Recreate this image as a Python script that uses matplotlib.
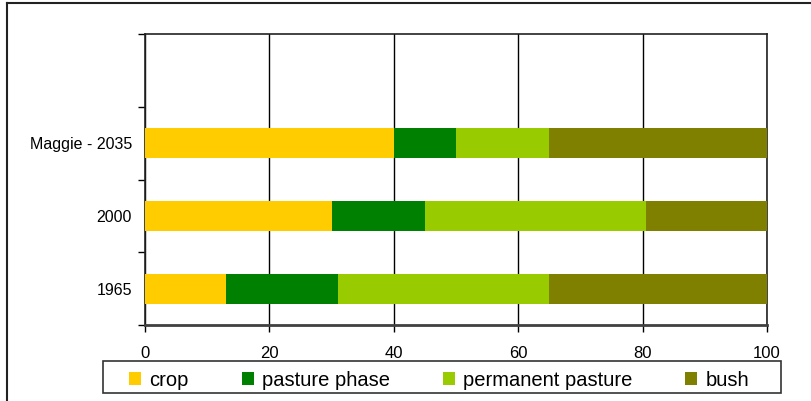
import matplotlib.pyplot as plt
import numpy as np
from matplotlib.lines import Line2D
from matplotlib.patches import Rectangle

# data (percent of area)
periods = ['1965', '2000', 'Maggie - 2035']
land_uses = ['crop', 'pasture phase', 'permanent pasture', 'bush']
crop = [13, 30, 40]
pasture_phase = [18, 15, 10]
permanent_pasture = [34, 35.5, 15]
bush = [35, 19.5, 35]
colors = ['#FFCC00', '#008000', '#99CC00', '#808000']

plt.rcParams['font.family'] = ['Liberation Sans', 'DejaVu Sans']

W, H = 812, 401
fig = plt.figure(figsize=(W / 100, H / 100), dpi=100)

# axes placed in pixel coords of the reference
ax = fig.add_axes([145 / W, 1 - 325 / H, (767 - 145) / W, (325 - 34) / H])

y = np.arange(len(periods))
left = np.zeros(len(periods))
for name, vals, col in zip(land_uses, [crop, pasture_phase, permanent_pasture, bush], colors):
    ax.barh(y, vals, left=left, height=0.41, color=col, label=name, zorder=3)
    left += np.array(vals)

ax.set_xlim(0, 100)
ax.set_ylim(-0.5, 3.5)
ax.set_xticks(range(0, 101, 20))
ax.grid(axis='x', color='black', linewidth=1, zorder=0)
ax.tick_params(axis='x', direction='out', length=5, width=1, labelsize=12, pad=10)

# category boundaries as major ticks, labels as minor ticks
ax.set_yticks(np.arange(-0.5, 3.6, 1))
ax.set_yticklabels([])
ax.set_yticks(y, minor=True)
ax.set_yticklabels(periods, minor=True)
ax.tick_params(axis='y', which='major', direction='out', length=5, width=1)
ax.tick_params(axis='y', which='minor', length=0, labelsize=11.5, pad=9.5)

for side in ['top', 'right', 'left', 'bottom']:
    ax.spines[side].set_color('#222222')
    ax.spines[side].set_linewidth(1.2)
ax.spines['bottom'].set_color('#404040')
ax.spines['bottom'].set_linewidth(2)

# legend without its own frame, box drawn separately
handles, labels = ax.get_legend_handles_labels()
leg = fig.legend(handles, labels, ncol=4, mode='expand',
                 bbox_to_anchor=(126 / W, 1 - 393 / H, (752 - 126) / W, 32 / H),
                 loc='lower left', fontsize=14.5, frameon=False,
                 handlelength=0.6, handleheight=0.6, handletextpad=0.4,
                 borderpad=0.15, borderaxespad=0)
fig.add_artist(Rectangle((103 / W, 1 - 393 / H), (781 - 103) / W, 32 / H,
                         fill=False, edgecolor='#333333', linewidth=1.2))

# outer chart frame (partially cropped in the reference)
fig.add_artist(Line2D([7 / W, 7 / W], [0, 1 - 2.5 / H], color='#222222', linewidth=1.5))
fig.add_artist(Line2D([7 / W, 1], [1 - 2.5 / H, 1 - 2.5 / H], color='#222222', linewidth=1.5))

fig.savefig('out.png', dpi=100)
